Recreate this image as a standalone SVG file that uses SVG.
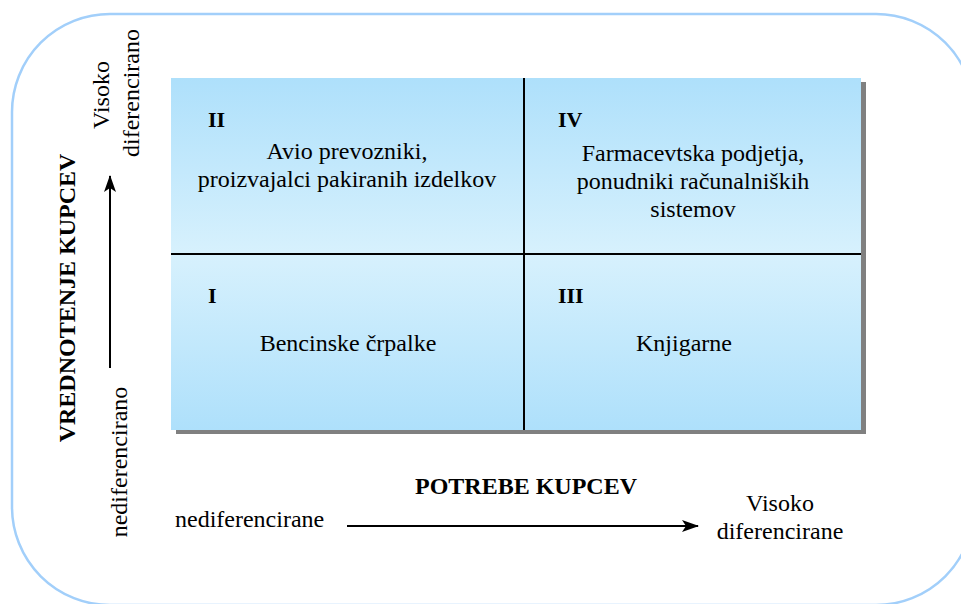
<svg xmlns="http://www.w3.org/2000/svg" width="961" height="604" viewBox="0 0 961 604">
  <style>
    .t { font-family: "Liberation Serif", "Times New Roman", serif; font-size: 24px; fill: #000; }
    .b { font-family: "Liberation Serif", "Times New Roman", serif; font-weight: bold; fill: #000; }
    .num { font-size: 22px; }
    .title { font-size: 24px; }
    .mid { text-anchor: middle; }
    .grid { stroke: #000; stroke-width: 2; fill: none; }
    .axis { stroke: #000; stroke-width: 2; fill: none; }
  </style>
  <defs>
    <linearGradient id="quadFill" x1="0" y1="0" x2="0" y2="1">
      <stop offset="0" stop-color="#aee0fb"/>
      <stop offset="0.5" stop-color="#d7f1fd"/>
      <stop offset="1" stop-color="#aee0fb"/>
    </linearGradient>
    <marker id="arrowHead" markerUnits="userSpaceOnUse" markerWidth="18" markerHeight="12" refX="16" refY="6" orient="auto">
      <path d="M0,0 L17,6 L0,12 L4,6 Z" fill="#000"/>
    </marker>
  </defs>

  <!-- outer rounded frame -->
  <rect id="frame" x="12" y="14" width="962" height="591" rx="98" ry="98" fill="#fff" stroke="#a2cffa" stroke-width="2.5"/>

  <!-- 2x2 matrix -->
  <g id="matrix">
    <rect x="176" y="82" width="690" height="352" fill="#808080"/>
    <rect x="171" y="78" width="690" height="352" fill="url(#quadFill)"/>
    <line class="grid" x1="524" y1="78" x2="524" y2="430"/>
    <line class="grid" x1="171" y1="254" x2="861" y2="254"/>
  </g>

  <g id="quadrant-II">
    <text class="b num" x="208" y="127">II</text>
    <text class="t mid" x="347" y="159">Avio prevozniki,</text>
    <text class="t mid" x="347" y="187">proizvajalci pakiranih izdelkov</text>
  </g>

  <g id="quadrant-IV">
    <text class="b num" x="558" y="127">IV</text>
    <text class="t mid" x="693" y="161">Farmacevtska podjetja,</text>
    <text class="t mid" x="693" y="189">ponudniki računalniških</text>
    <text class="t mid" x="693" y="217">sistemov</text>
  </g>

  <g id="quadrant-I">
    <text class="b num" x="208" y="303">I</text>
    <text class="t mid" x="348" y="351">Bencinske črpalke</text>
  </g>

  <g id="quadrant-III">
    <text class="b num" x="558" y="303">III</text>
    <text class="t mid" x="684" y="351">Knjigarne</text>
  </g>

  <!-- vertical axis labels -->
  <g id="y-axis-labels">
    <text class="b title mid" transform="translate(75,298) rotate(-90)">VREDNOTENJE KUPCEV</text>
    <text class="t mid" transform="translate(109,95) rotate(-90)">Visoko</text>
    <text class="t mid" transform="translate(139,93) rotate(-90)">diferencirano</text>
    <text class="t mid" transform="translate(127,462) rotate(-90)">nediferencirano</text>
  </g>

  <!-- horizontal axis labels -->
  <g id="x-axis-labels">
    <text class="b title mid" x="526" y="494">POTREBE KUPCEV</text>
    <text class="t" x="175" y="527">nediferencirane</text>
    <text class="t mid" x="780" y="511">Visoko</text>
    <text class="t mid" x="780" y="539">diferencirane</text>
  </g>

  <!-- axis arrows -->
  <g id="connectors">
    <line class="axis" x1="110" y1="368" x2="110" y2="176" marker-end="url(#arrowHead)"/>
    <line class="axis" x1="347" y1="526" x2="698" y2="526" marker-end="url(#arrowHead)"/>
  </g>
</svg>
